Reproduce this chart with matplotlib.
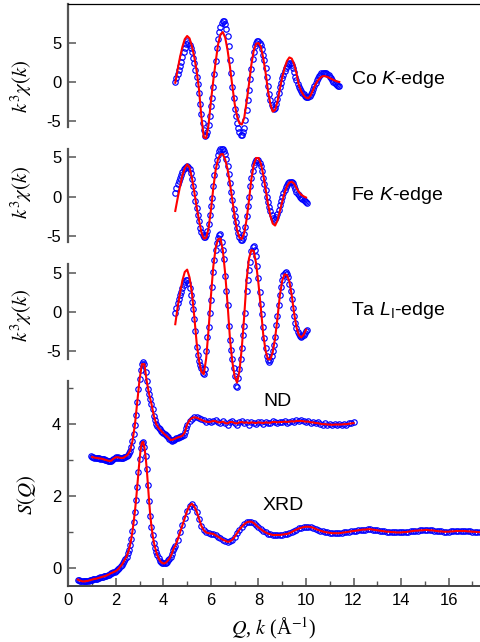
import numpy as np
import matplotlib
matplotlib.use('Agg')
import matplotlib.pyplot as plt

plt.rcParams['font.family'] = ['Liberation Sans', 'DejaVu Sans']
plt.rcParams['mathtext.fontset'] = 'custom'
plt.rcParams['mathtext.rm'] = 'Liberation Sans'
plt.rcParams['mathtext.it'] = 'Liberation Sans:italic'
plt.rcParams['axes.unicode_minus'] = False

# ---------------- data ----------------
# Co K-edge, k = 4.50 ... 11.40 step 0.05
co_chi = [-0.05, 0.5, 1.0, 1.5, 2.0, 2.6, 3.2, 3.8, 4.4, 4.9,
          5.2, 5.0, 4.7, 4.3, 3.8, 3.1, 2.4, 1.6, 0.7, -0.3,
          -1.4, -2.8, -4.1, -5.2, -6.2, -6.9, -6.8, -6.4, -5.5, -4.3,
          -3.1, -2.0, -0.6, 1.0, 2.7, 4.3, 5.5, 6.4, 7.1, 7.5,
          7.85, 7.8, 7.45, 6.8, 5.9, 4.6, 2.8, 1.1, -0.6, -2.1,
          -3.4, -4.4, -5.3, -5.9, -6.4, -6.75, -6.75, -6.4, -5.9, -4.9,
          -3.6, -2.3, -1.0, 0.4, 1.7, 3.0, 3.9, 4.6, 5.0, 5.2,
          5.2, 5.05, 4.7, 4.2, 3.5, 2.8, 1.8, 0.7, -0.5, -1.5,
          -2.3, -2.9, -3.25, -3.4, -3.3, -2.8, -2.2, -1.4, -0.7, -0.1,
          0.5, 0.9, 1.4, 1.8, 2.1, 2.3, 2.4, 2.4, 2.2, 1.8,
          1.3, 0.7, 0.2, -0.3, -0.6, -0.85, -1.15, -1.4, -1.6, -1.75,
          -1.9, -1.95, -1.95, -1.85, -1.6, -1.3, -0.9, -0.5, -0.1, 0.2,
          0.5, 0.75, 0.95, 1.1, 1.2, 1.2, 1.2, 1.1, 1.0, 0.85,
          0.65, 0.45, 0.25, 0.05, -0.1, -0.25, -0.35, -0.45, -0.5]
# fit, k = 4.5 ... 11.4 step 0.1
co_fit = [-0.1, 1.6, 3.2, 4.5, 5.5,
          5.9, 5.6, 4.6, 3.2, 1.4, -1.0, -4.5, -7.1, -7.2, -5.5,
          -2.5, 0.2, 2.6, 4.8, 6.1, 6.4, 5.7, 4.1, 1.96, -0.5,
          -2.8, -4.4, -5.3, -5.45, -4.6, -2.6, -0.3, 2.2, 4.0, 4.9,
          5.0, 4.5, 3.1, 1.2, -1.1, -2.8, -3.8, -3.6, -2.5, -0.9,
          0.6, 1.8, 2.7, 3.15, 3.0, 2.3, 1.1, -0.4, -1.2, -1.7,
          -2.0, -2.1, -1.7, -1.0, -0.3, 0.2, 0.55, 0.75, 0.75, 0.65,
          0.5, 0.35, 0.2, 0.08, 0.0]

# Fe K-edge, k = 4.50 ... 10.05 step 0.05
fe_chi = [0.45, 1.1, 1.6, 2.05, 2.4, 2.8, 3.15, 3.45, 3.65, 3.8,
          3.85, 3.75, 3.45, 3.0, 2.2, 1.4, 0.5, -0.5, -1.4, -2.3,
          -3.1, -3.9, -4.5, -4.9, -5.1, -5.15, -4.9, -4.3, -3.4, -2.3,
          -1.2, -0.1, 1.3, 2.8, 3.9, 4.7, 5.3, 5.75, 6.0, 6.1,
          6.05, 5.8, 5.4, 4.8, 3.9, 2.9, 1.7, 0.6, -0.45, -1.5,
          -2.4, -3.2, -4.0, -4.6, -5.1, -5.45, -5.45, -5.2, -4.7, -3.8,
          -2.5, -1.2, 0.0, 1.3, 2.4, 3.3, 4.0, 4.4, 4.65, 4.7,
          4.6, 4.3, 3.85, 3.2, 2.4, 1.6, 0.8, 0.0, -0.7, -1.3,
          -1.8, -2.3, -2.75, -2.95, -2.85, -2.6, -2.2, -1.7, -1.1, -0.6,
          -0.05, 0.45, 0.85, 1.2, 1.5, 1.7, 1.85, 1.9, 1.9, 1.7,
          1.35, 0.95, 0.65, 0.4, 0.2, 0.0, -0.15, -0.3, -0.45, -0.55,
          -0.7, -0.8]
# fit, k = 4.5 ... 10.0 step 0.1
fe_fit = [-1.8, -0.2, 1.3, 2.7, 3.6,
          4.1, 3.7, 2.4, 0.6, -1.3, -3.0, -4.5, -5.3, -5.2, -4.0,
          -1.7, 1.1, 3.4, 4.8, 5.35, 5.4, 4.7, 3.5, 1.7, -0.4,
          -2.5, -4.2, -5.2, -5.35, -4.6, -2.9, -0.5, 2.2, 4.0, 4.9,
          4.9, 4.2, 2.8, 1.0, -0.9, -2.4, -3.4, -3.65, -3.0, -1.8,
          -0.6, 0.5, 1.3, 1.8, 1.9, 1.65, 1.1, 0.6, 0.25, 0.05,
          -0.1]

# Ta L1-edge, k = 4.50 ... 10.05 step 0.05
ta_chi = [-0.1, 0.5, 1.1, 1.6, 2.1, 2.55, 3.0, 3.45, 3.8, 4.1,
          4.1, 3.65, 3.0, 2.2, 1.3, 0.4, -0.9, -2.5, -4.5, -5.6,
          -6.3, -6.8, -7.2, -7.8, -8.0, -7.3, -5.0, -3.2, -2.0, -0.2,
          1.5, 3.2, 5.1, 6.6, 7.9, 8.8, 9.5, 9.9, 10.0, 9.0,
          7.9, 6.7, 4.6, 2.6, 0.9, -1.8, -3.6, -4.9, -6.1, -7.2,
          -8.3, -9.5, -9.6, -8.5, -7.3, -6.1, -4.6, -3.0, -1.8, -0.2,
          2.6, 4.1, 5.4, 6.4, 7.8, 8.3, 8.4, 7.9, 7.1, 5.9,
          4.3, 2.5, 1.0, -0.3, -2.0, -3.4, -4.6, -5.7, -6.2, -6.4,
          -6.2, -5.7, -5.0, -4.3, -3.2, -1.7, -0.6, 0.9, 2.2, 3.2,
          4.1, 4.7, 5.0, 5.1, 4.9, 4.4, 3.6, 2.7, 1.6, 0.5,
          -0.6, -1.5, -2.1, -2.6, -2.9, -3.1, -3.2, -3.15, -2.95, -2.7,
          -2.5, -2.3]
# fit, k = 4.5 ... 10.0 step 0.1
ta_fit = [-1.6, 0.6, 2.4, 4.0, 5.1,
          5.4, 4.4, 2.4, -0.6, -4.0, -6.3, -7.7, -8.0, -6.0, -2.3,
          2.0, 5.8, 8.2, 9.3, 9.4, 7.9, 4.9, 1.0, -3.4, -6.4,
          -8.3, -9.1, -7.6, -4.6, -0.6, 4.0, 6.8, 7.9, 7.8, 6.2,
          3.6, 0.5, -2.9, -5.0, -6.1, -6.1, -5.2, -3.4, -0.8, 2.1,
          4.0, 4.8, 4.7, 3.9, 2.1, -0.2, -2.0, -3.0, -3.3, -2.95,
          -2.3]

# ND S(Q) (shifted), Q = 0.95 ... 4.95 step 0.05, then 5.0 ... 12.0 step 0.1
nd_sq_low = [3.10, 3.08, 3.07, 3.06, 3.06, 3.05, 3.04, 3.04, 3.03, 3.03,
             3.02, 3.01, 3.00, 2.99, 2.98, 2.97, 2.96, 2.97, 2.99, 3.03,
             3.06, 3.07, 3.06, 3.08, 3.06, 3.04, 3.04, 3.05, 3.07, 3.09,
             3.11, 3.14, 3.18, 3.25, 3.36, 3.52, 3.72, 3.96, 4.25, 4.60,
             4.98, 5.25, 5.50, 5.66, 5.72, 5.66, 5.45, 5.18, 4.98, 4.82,
             4.68, 4.55, 4.40, 4.22, 4.10, 3.99, 3.93, 3.88, 3.85, 3.81,
             3.78, 3.74, 3.71, 3.68, 3.65, 3.62, 3.58, 3.55, 3.52, 3.54,
             3.56, 3.57, 3.60, 3.61, 3.63, 3.62, 3.65, 3.67, 3.70, 3.76,
             3.88]
nd_sq_high = [3.98, 4.08, 4.14, 4.19, 4.20, 4.17, 4.13, 4.10, 4.05, 4.08,
              4.04, 4.09, 4.11, 4.06, 4.01, 4.08, 4.03, 3.97, 4.06, 4.09,
              4.02, 3.97, 4.04, 4.08, 4.02, 4.05, 3.98, 4.06, 4.03, 4.00,
              4.05, 4.04, 4.00, 4.06, 4.03, 4.01, 4.07, 4.05, 4.02, 4.06,
              4.04, 4.08, 4.03, 4.06, 4.09, 4.05, 4.10, 4.08, 4.11, 4.07,
              4.05, 4.08, 4.03, 4.05, 4.01, 4.04, 4.00, 3.98, 4.02, 3.97,
              3.99, 3.96, 4.00, 3.97, 3.99, 3.96, 4.00, 3.98, 4.01, 4.03,
              4.04]
# ND fit, Q = 1.0 ... 12.0 step 0.1
nd_fit = [3.08, 3.06, 3.05, 3.04, 3.03, 3.01, 2.99, 2.97, 2.97, 3.03,
          3.07, 3.07, 3.05, 3.05, 3.09, 3.14, 3.25, 3.52, 3.96, 4.60,
          5.25, 5.66, 5.66, 5.18, 4.82, 4.55, 4.22, 3.99, 3.88, 3.81,
          3.74, 3.68, 3.62, 3.55, 3.56, 3.59, 3.62, 3.64, 3.67, 3.76,
          3.98, 4.10, 4.16, 4.18, 4.17, 4.14, 4.11, 4.08, 4.06, 4.05,
          4.06, 4.08, 4.07, 4.04, 4.04, 4.06, 4.02, 4.01, 4.05, 4.05,
          4.02, 4.01, 4.04, 4.05, 4.03, 4.04, 4.02, 4.04, 4.03, 4.02,
          4.04, 4.03, 4.02, 4.04, 4.03, 4.03, 4.05, 4.05, 4.04, 4.05,
          4.05, 4.06, 4.05, 4.06, 4.07, 4.06, 4.08, 4.08, 4.08, 4.07,
          4.06, 4.06, 4.04, 4.04, 4.02, 4.02, 4.00, 3.99, 3.99, 3.98,
          3.98, 3.97, 3.98, 3.98, 3.98, 3.98, 3.99, 3.99, 4.00, 4.01,
          4.02]

# XRD S(Q), Q = 0.40 ... 4.45 step 0.05, then 4.5 ... 17.3 step 0.1
xrd_sq_low = [-0.33, -0.35, -0.36, -0.37, -0.38, -0.38, -0.38, -0.37, -0.37, -0.36,
              -0.35, -0.34, -0.33, -0.32, -0.31, -0.31, -0.30, -0.29, -0.28, -0.27,
              -0.26, -0.25, -0.24, -0.23, -0.22, -0.20, -0.19, -0.17, -0.15, -0.14,
              -0.12, -0.11, -0.09, -0.07, -0.04, 0.00, 0.04, 0.08, 0.13, 0.19,
              0.25, 0.31, 0.40, 0.50, 0.63, 0.80, 1.02, 1.27, 1.55, 1.88,
              2.25, 2.65, 3.02, 3.32, 3.48, 3.50, 3.36, 3.10, 2.75, 2.30,
              1.85, 1.45, 1.14, 0.90, 0.70, 0.56, 0.44, 0.34, 0.26, 0.20,
              0.16, 0.13, 0.12, 0.12, 0.14, 0.17, 0.21, 0.25, 0.31, 0.38,
              0.48, 0.56]
xrd_sq_high = [0.60, 0.78, 0.98, 1.18, 1.38, 1.58, 1.72, 1.78, 1.70, 1.56,
               1.36, 1.16, 1.04, 0.98, 0.96, 0.95, 0.94, 0.90, 0.86, 0.82,
               0.78, 0.75, 0.72, 0.73, 0.78, 0.86, 0.96, 1.06, 1.14, 1.21,
               1.26, 1.28, 1.28, 1.24, 1.18, 1.12, 1.07, 1.02, 0.98, 0.95,
               0.93, 0.91, 0.91, 0.91, 0.91, 0.92, 0.93, 0.94, 0.96, 0.99,
               1.03, 1.06, 1.09, 1.11, 1.13, 1.14, 1.14, 1.13, 1.11, 1.08,
               1.05, 1.03, 1.01, 0.99, 0.98, 0.97, 0.96, 0.96, 0.96, 0.96,
               0.97, 0.98, 0.99, 1.00, 1.01, 1.02, 1.03, 1.04, 1.05, 1.06,
               1.06, 1.07, 1.07, 1.06, 1.05, 1.04, 1.03, 1.02, 1.01, 1.00,
               1.00, 0.99, 0.99, 0.98, 0.98, 0.98, 0.99, 0.99, 1.00, 1.01,
               1.02, 1.03, 1.03, 1.04, 1.04, 1.05, 1.05, 1.04, 1.04, 1.03,
               1.02, 1.01, 1.01, 1.00, 1.00, 1.00, 1.01, 1.01, 1.02, 1.02,
               1.02, 1.02, 1.02, 1.01, 1.01, 1.00, 1.00, 0.99, 0.99]

exafs_labels = ['Co $K$-edge', 'Fe $K$-edge', 'Ta $L_{\\mathrm{I}}$-edge']

# ---------------- grids ----------------
co_k = np.linspace(4.50, 11.40, len(co_chi))
co_kf = np.linspace(4.5, 11.4, len(co_fit))
fe_k = np.linspace(4.50, 10.05, len(fe_chi))
fe_kf = np.linspace(4.5, 10.0, len(fe_fit))
ta_k = np.linspace(4.50, 10.05, len(ta_chi))
ta_kf = np.linspace(4.5, 10.0, len(ta_fit))
nd_q = np.concatenate([np.linspace(0.95, 4.95, len(nd_sq_low)),
                       np.linspace(5.0, 12.0, len(nd_sq_high))])
nd_sq = np.array(nd_sq_low + nd_sq_high)
nd_qf = np.linspace(1.0, 12.0, len(nd_fit))
xrd_q = np.concatenate([np.linspace(0.40, 4.45, len(xrd_sq_low)),
                        np.linspace(4.5, 17.3, len(xrd_sq_high))])
xrd_sq = np.array(xrd_sq_low + xrd_sq_high)

# ---------------- layout (pixel based) ----------------
W, H = 481, 642
X0 = 68.3           # pixel of Q = 0
PX_PER_Q = 23.77
x_max = (W - X0) / PX_PER_Q

fig = plt.figure(figsize=(W / 100, H / 100), dpi=100)


def make_axes(top_px, bottom_px):
    return fig.add_axes([X0 / W, 1 - bottom_px / H, (W - X0) / W,
                         (bottom_px - top_px) / H])


SPINE = '#555555'
mk = dict(ls='none', marker='o', mfc='none', mec='#0000ff', ms=3.9, mew=0.85,
          clip_on=False, zorder=3)
ln = dict(color='#ff0000', lw=1.5, clip_on=False, zorder=4)

# (top px, bottom px, ylim, data k, data, fit k, fit, label pos)
panels = [
    (4, 127, (-5.77, 10.0), co_k, co_chi, co_kf, co_fit, 0.26),
    (149, 242, (-5.73, 6.04), fe_k, fe_chi, fe_kf, fe_fit, 0.1),
    (264, 359, (-6.06, 6.12), ta_k, ta_chi, ta_kf, ta_fit, 0.1),
]
ylab_y = [86, 192, 315]

for i, (t, b, yl, kd, yd, kf, yf, ly) in enumerate(panels):
    ax = make_axes(t, b)
    ax.set_xlim(0, x_max)
    ax.set_ylim(*yl)
    ax.patch.set_visible(False)
    ax.spines['right'].set_visible(False)
    ax.spines['bottom'].set_visible(False)
    ax.spines['top'].set_visible(i == 0)
    ax.spines['top'].set_linewidth(0.9)
    ax.spines['left'].set_color(SPINE)
    ax.spines['left'].set_linewidth(1.6)
    ax.set_yticks([-5, 0, 5])
    ax.tick_params(axis='y', direction='in', length=6, width=1.1, color=SPINE,
                   labelsize=12, pad=5)
    ax.tick_params(axis='x', bottom=False, labelbottom=False)
    ax.plot(kd, yd, **mk)
    ax.plot(kf, yf, **ln)
    ax.text(11.9, ly, exafs_labels[i], fontsize=14, ha='left', va='center')
    fig.text(21 / W, 1 - ylab_y[i] / H, r'$k^3\chi(k)$', rotation=90,
             ha='center', va='center', fontsize=15, math_fontfamily='stix')

# S(Q) panel
ax = make_axes(381, 585.7)
ax.set_xlim(0, x_max)
ax.set_ylim(-0.5, 5.19)
ax.patch.set_visible(False)
ax.spines['right'].set_visible(False)
ax.spines['top'].set_visible(False)
ax.spines['left'].set_color(SPINE)
ax.spines['left'].set_linewidth(1.6)
ax.spines['bottom'].set_color('#444444')
ax.spines['bottom'].set_linewidth(1.4)
ax.set_yticks([0, 2, 4])
ax.set_yticks([1, 3, 5], minor=True)
ax.set_xticks(np.arange(0, 17, 2))
ax.set_xticks(np.arange(1, 18, 2), minor=True)
ax.tick_params(which='major', direction='in', length=6, width=1.1, color=SPINE,
               labelsize=12, pad=5)
ax.tick_params(which='minor', direction='in', length=3.5, width=1.0, color=SPINE)
ax.plot(nd_q, nd_sq, **mk)
ax.plot(nd_qf, nd_fit, **ln)
ax.plot(xrd_q, xrd_sq, **mk)
ax.plot(xrd_q, xrd_sq, **ln)
ax.text(8.78, 4.61, 'ND', fontsize=14, ha='center', va='center')
ax.text(9.05, 1.73, 'XRD', fontsize=14, ha='center', va='center')
fig.text(26 / W, 1 - 495 / H, r'$S(Q)$', rotation=90, ha='center',
         va='center', fontsize=15, math_fontfamily='stix')
fig.text(274 / W, 1 - 628 / H, r'$Q$, $k$ (Å$^{-1}$)', ha='center',
         va='center', fontsize=14.5, family='Liberation Serif',
         math_fontfamily='stix')

fig.savefig('out.png', dpi=100)
